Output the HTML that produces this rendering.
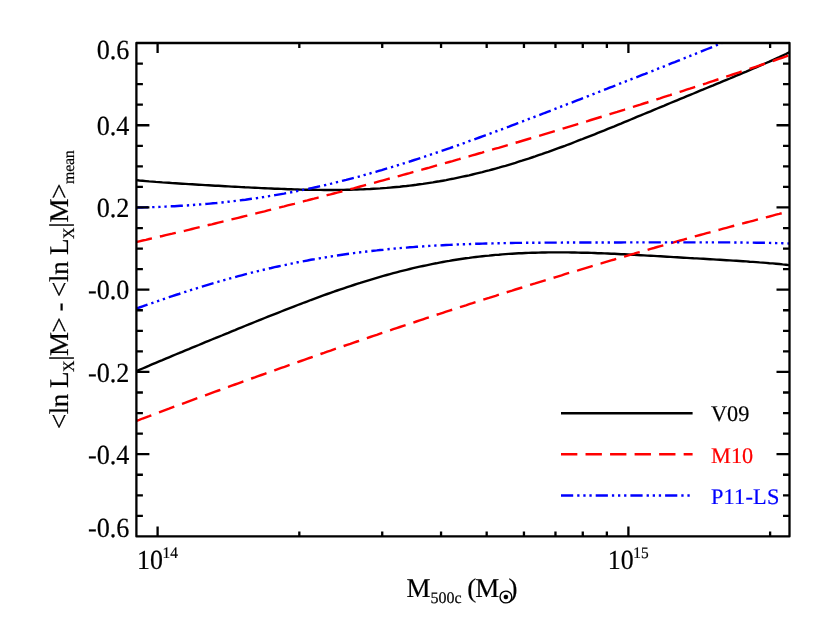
<!DOCTYPE html><html><head><meta charset="utf-8"><style>html,body{margin:0;padding:0;background:#fff}</style></head><body><svg width="830" height="623" viewBox="0 0 830 623" style="display:block;will-change:transform">
<rect width="830" height="623" fill="#fff"/>
<defs><clipPath id="c"><rect x="136.4" y="43.0" width="653.1" height="493.4"/></clipPath></defs>
<g fill="none" stroke-width="2.4" clip-path="url(#c)">
<path d="M136.0,180.1 L139.3,180.5 L142.6,180.8 L145.9,181.1 L149.2,181.4 L152.5,181.6 L155.8,181.9 L159.1,182.1 L162.4,182.4 L165.7,182.6 L169.0,182.8 L172.3,183.1 L175.6,183.3 L178.9,183.5 L182.2,183.7 L185.5,183.9 L188.8,184.1 L192.1,184.3 L195.4,184.5 L198.7,184.7 L202.0,184.9 L205.3,185.1 L208.6,185.3 L211.9,185.5 L215.2,185.7 L218.5,185.8 L221.8,186.0 L225.1,186.2 L228.4,186.4 L231.7,186.6 L235.0,186.7 L238.3,186.9 L241.6,187.1 L244.9,187.3 L248.2,187.4 L251.5,187.6 L254.8,187.7 L258.1,187.9 L261.4,188.1 L264.7,188.2 L268.0,188.4 L271.3,188.5 L274.6,188.7 L277.9,188.8 L281.2,188.9 L284.5,189.0 L287.8,189.2 L291.1,189.3 L294.4,189.4 L297.7,189.5 L300.9,189.6 L304.2,189.7 L307.5,189.7 L310.8,189.8 L314.1,189.8 L317.4,189.9 L320.7,189.9 L324.0,190.0 L327.3,190.0 L330.6,190.0 L333.9,190.0 L337.2,189.9 L340.5,189.9 L343.8,189.9 L347.1,189.8 L350.4,189.7 L353.7,189.6 L357.0,189.5 L360.3,189.4 L363.6,189.3 L366.9,189.1 L370.2,189.0 L373.5,188.8 L376.8,188.6 L380.1,188.4 L383.4,188.1 L386.7,187.9 L390.0,187.6 L393.3,187.3 L396.6,187.0 L399.9,186.7 L403.2,186.3 L406.5,186.0 L409.8,185.6 L413.1,185.2 L416.4,184.8 L419.7,184.3 L423.0,183.9 L426.3,183.4 L429.6,182.9 L432.9,182.4 L436.2,181.8 L439.5,181.3 L442.8,180.7 L446.1,180.1 L449.4,179.4 L452.7,178.8 L456.0,178.1 L459.3,177.4 L462.6,176.7 L465.9,176.0 L469.2,175.3 L472.5,174.5 L475.8,173.7 L479.1,172.9 L482.4,172.1 L485.7,171.2 L489.0,170.4 L492.3,169.5 L495.6,168.6 L498.9,167.7 L502.2,166.7 L505.5,165.8 L508.8,164.8 L512.1,163.8 L515.4,162.8 L518.7,161.7 L522.0,160.7 L525.3,159.6 L528.6,158.6 L531.9,157.5 L535.2,156.4 L538.5,155.2 L541.8,154.1 L545.1,152.9 L548.4,151.8 L551.7,150.6 L555.0,149.4 L558.3,148.2 L561.6,147.0 L564.9,145.8 L568.2,144.5 L571.5,143.3 L574.8,142.0 L578.1,140.7 L581.4,139.5 L584.7,138.2 L588.0,136.9 L591.3,135.6 L594.6,134.3 L597.9,132.9 L601.2,131.6 L604.5,130.3 L607.8,128.9 L611.1,127.6 L614.4,126.3 L617.7,124.9 L621.0,123.6 L624.3,122.2 L627.6,120.8 L630.8,119.5 L634.1,118.1 L637.4,116.7 L640.7,115.4 L644.0,114.0 L647.3,112.6 L650.6,111.3 L653.9,109.9 L657.2,108.5 L660.5,107.1 L663.8,105.8 L667.1,104.4 L670.4,103.0 L673.7,101.7 L677.0,100.3 L680.3,98.9 L683.6,97.6 L686.9,96.2 L690.2,94.8 L693.5,93.5 L696.8,92.1 L700.1,90.7 L703.4,89.4 L706.7,88.0 L710.0,86.6 L713.3,85.3 L716.6,83.9 L719.9,82.6 L723.2,81.2 L726.5,79.8 L729.8,78.5 L733.1,77.1 L736.4,75.7 L739.7,74.3 L743.0,72.9 L746.3,71.6 L749.6,70.2 L752.9,68.7 L756.2,67.3 L759.5,65.9 L762.8,64.5 L766.1,63.0 L769.4,61.6 L772.7,60.1 L776.0,58.6 L779.3,57.1 L782.6,55.5 L785.9,54.0 L789.2,52.4 L792.5,50.8" stroke="#000"/>
<path d="M136.0,371.4 L139.3,369.9 L142.6,368.5 L145.9,367.1 L149.2,365.7 L152.5,364.2 L155.8,362.8 L159.1,361.4 L162.4,360.1 L165.7,358.7 L169.0,357.3 L172.3,355.9 L175.6,354.5 L178.9,353.2 L182.2,351.8 L185.5,350.4 L188.8,349.1 L192.1,347.7 L195.4,346.3 L198.7,345.0 L202.0,343.6 L205.3,342.2 L208.6,340.9 L211.9,339.5 L215.2,338.2 L218.5,336.8 L221.8,335.5 L225.1,334.1 L228.4,332.8 L231.7,331.4 L235.0,330.1 L238.3,328.7 L241.6,327.4 L244.9,326.0 L248.2,324.7 L251.5,323.3 L254.8,322.0 L258.1,320.7 L261.4,319.3 L264.7,318.0 L268.0,316.7 L271.3,315.4 L274.6,314.1 L277.9,312.8 L281.2,311.5 L284.5,310.2 L287.8,308.9 L291.1,307.6 L294.4,306.3 L297.7,305.0 L300.9,303.8 L304.2,302.5 L307.5,301.3 L310.8,300.0 L314.1,298.8 L317.4,297.6 L320.7,296.4 L324.0,295.2 L327.3,294.0 L330.6,292.8 L333.9,291.7 L337.2,290.5 L340.5,289.4 L343.8,288.3 L347.1,287.2 L350.4,286.1 L353.7,285.0 L357.0,283.9 L360.3,282.9 L363.6,281.8 L366.9,280.8 L370.2,279.8 L373.5,278.8 L376.8,277.8 L380.1,276.8 L383.4,275.9 L386.7,275.0 L390.0,274.1 L393.3,273.2 L396.6,272.3 L399.9,271.4 L403.2,270.6 L406.5,269.8 L409.8,269.0 L413.1,268.2 L416.4,267.4 L419.7,266.7 L423.0,266.0 L426.3,265.3 L429.6,264.6 L432.9,263.9 L436.2,263.3 L439.5,262.6 L442.8,262.0 L446.1,261.4 L449.4,260.9 L452.7,260.3 L456.0,259.8 L459.3,259.3 L462.6,258.8 L465.9,258.3 L469.2,257.9 L472.5,257.4 L475.8,257.0 L479.1,256.6 L482.4,256.2 L485.7,255.9 L489.0,255.6 L492.3,255.2 L495.6,254.9 L498.9,254.7 L502.2,254.4 L505.5,254.1 L508.8,253.9 L512.1,253.7 L515.4,253.5 L518.7,253.3 L522.0,253.2 L525.3,253.0 L528.6,252.9 L531.9,252.8 L535.2,252.7 L538.5,252.6 L541.8,252.5 L545.1,252.5 L548.4,252.4 L551.7,252.4 L555.0,252.4 L558.3,252.4 L561.6,252.4 L564.9,252.4 L568.2,252.4 L571.5,252.5 L574.8,252.5 L578.1,252.6 L581.4,252.7 L584.7,252.7 L588.0,252.8 L591.3,252.9 L594.6,253.0 L597.9,253.2 L601.2,253.3 L604.5,253.4 L607.8,253.5 L611.1,253.7 L614.4,253.8 L617.7,254.0 L621.0,254.2 L624.3,254.3 L627.6,254.5 L630.8,254.7 L634.1,254.8 L637.4,255.0 L640.7,255.2 L644.0,255.4 L647.3,255.6 L650.6,255.7 L653.9,255.9 L657.2,256.1 L660.5,256.3 L663.8,256.5 L667.1,256.7 L670.4,256.9 L673.7,257.1 L677.0,257.3 L680.3,257.5 L683.6,257.7 L686.9,257.9 L690.2,258.1 L693.5,258.3 L696.8,258.4 L700.1,258.6 L703.4,258.8 L706.7,259.0 L710.0,259.2 L713.3,259.4 L716.6,259.6 L719.9,259.8 L723.2,260.0 L726.5,260.2 L729.8,260.4 L733.1,260.6 L736.4,260.8 L739.7,261.0 L743.0,261.2 L746.3,261.4 L749.6,261.7 L752.9,261.9 L756.2,262.1 L759.5,262.4 L762.8,262.6 L766.1,262.9 L769.4,263.2 L772.7,263.4 L776.0,263.7 L779.3,264.0 L782.6,264.4 L785.9,264.7 L789.2,265.1 L792.5,265.5" stroke="#000"/>
<path d="M136.0,242.1 L139.3,241.3 L142.6,240.5 L145.9,239.8 L149.2,239.0 L152.5,238.3 L155.8,237.5 L159.1,236.7 L162.4,236.0 L165.7,235.2 L169.0,234.4 L172.3,233.7 L175.6,232.9 L178.9,232.1 L182.2,231.3 L185.4,230.6 L188.7,229.8 L192.0,229.0 L195.3,228.2 L198.6,227.4 L201.9,226.6 L205.2,225.8 L208.5,225.0 L211.8,224.3 L215.1,223.5 L218.4,222.7 L221.7,221.9 L225.0,221.1 L228.3,220.2 L231.6,219.4 L234.9,218.6 L238.2,217.8 L241.5,217.0 L244.8,216.2 L248.1,215.4 L251.4,214.6 L254.7,213.7 L258.0,212.9 L261.3,212.1 L264.6,211.3 L267.9,210.4 L271.2,209.6 L274.5,208.8 L277.7,208.0 L281.0,207.1 L284.3,206.3 L287.6,205.4 L290.9,204.6 L294.2,203.8 L297.5,202.9 L300.8,202.1 L304.1,201.2 L307.4,200.4 L310.7,199.5 L314.0,198.7 L317.3,197.8 L320.6,196.9 L323.9,196.1 L327.2,195.2 L330.5,194.4 L333.8,193.5 L337.1,192.6 L340.4,191.8 L343.7,190.9 L347.0,190.0 L350.3,189.1 L353.6,188.3 L356.9,187.4 L360.2,186.5 L363.5,185.6 L366.8,184.7 L370.1,183.8 L373.3,183.0 L376.6,182.1 L379.9,181.2 L383.2,180.3 L386.5,179.4 L389.8,178.5 L393.1,177.6 L396.4,176.7 L399.7,175.8 L403.0,174.9 L406.3,174.0 L409.6,173.1 L412.9,172.1 L416.2,171.2 L419.5,170.3 L422.8,169.4 L426.1,168.5 L429.4,167.6 L432.7,166.6 L436.0,165.7 L439.3,164.8 L442.6,163.9 L445.9,162.9 L449.2,162.0 L452.5,161.1 L455.8,160.1 L459.1,159.2 L462.4,158.2 L465.6,157.3 L468.9,156.4 L472.2,155.4 L475.5,154.5 L478.8,153.5 L482.1,152.6 L485.4,151.6 L488.7,150.6 L492.0,149.7 L495.3,148.7 L498.6,147.8 L501.9,146.8 L505.2,145.8 L508.5,144.9 L511.8,143.9 L515.1,142.9 L518.4,142.0 L521.7,141.0 L525.0,140.0 L528.3,139.0 L531.6,138.0 L534.9,137.1 L538.2,136.1 L541.5,135.1 L544.8,134.1 L548.1,133.1 L551.4,132.1 L554.7,131.1 L557.9,130.1 L561.2,129.1 L564.5,128.1 L567.8,127.1 L571.1,126.1 L574.4,125.1 L577.7,124.1 L581.0,123.1 L584.3,122.1 L587.6,121.1 L590.9,120.0 L594.2,119.0 L597.5,118.0 L600.8,117.0 L604.1,116.0 L607.4,114.9 L610.7,113.9 L614.0,112.9 L617.3,111.9 L620.6,110.8 L623.9,109.8 L627.2,108.7 L630.5,107.7 L633.8,106.7 L637.1,105.6 L640.4,104.6 L643.7,103.5 L647.0,102.5 L650.3,101.4 L653.5,100.4 L656.8,99.3 L660.1,98.3 L663.4,97.2 L666.7,96.1 L670.0,95.1 L673.3,94.0 L676.6,93.0 L679.9,91.9 L683.2,90.8 L686.5,89.7 L689.8,88.7 L693.1,87.6 L696.4,86.5 L699.7,85.4 L703.0,84.3 L706.3,83.3 L709.6,82.2 L712.9,81.1 L716.2,80.0 L719.5,78.9 L722.8,77.8 L726.1,76.7 L729.4,75.6 L732.7,74.5 L736.0,73.4 L739.3,72.3 L742.6,71.2 L745.8,70.1 L749.1,69.0 L752.4,67.9 L755.7,66.8 L759.0,65.7 L762.3,64.5 L765.6,63.4 L768.9,62.3 L772.2,61.2 L775.5,60.0 L778.8,58.9 L782.1,57.8 L785.4,56.7 L788.7,55.5 L792.0,54.4" stroke="#f00" stroke-dasharray="16.35 8.18" stroke-dashoffset="0"/>
<path d="M136.0,421.0 L139.3,419.8 L142.6,418.5 L145.9,417.3 L149.2,416.1 L152.5,414.8 L155.8,413.6 L159.1,412.4 L162.4,411.1 L165.7,409.9 L169.0,408.7 L172.3,407.4 L175.6,406.2 L178.9,405.0 L182.2,403.8 L185.5,402.6 L188.8,401.3 L192.1,400.1 L195.4,398.9 L198.7,397.7 L202.0,396.5 L205.3,395.3 L208.6,394.1 L211.9,392.9 L215.2,391.7 L218.5,390.5 L221.8,389.3 L225.1,388.1 L228.4,386.9 L231.7,385.7 L235.0,384.5 L238.3,383.3 L241.6,382.1 L244.9,380.9 L248.2,379.7 L251.5,378.5 L254.8,377.4 L258.1,376.2 L261.4,375.0 L264.7,373.8 L268.0,372.6 L271.3,371.5 L274.6,370.3 L277.9,369.1 L281.2,367.9 L284.5,366.8 L287.8,365.6 L291.1,364.4 L294.4,363.3 L297.7,362.1 L300.9,361.0 L304.2,359.8 L307.5,358.6 L310.8,357.5 L314.1,356.3 L317.4,355.2 L320.7,354.0 L324.0,352.9 L327.3,351.7 L330.6,350.6 L333.9,349.4 L337.2,348.3 L340.5,347.2 L343.8,346.0 L347.1,344.9 L350.4,343.8 L353.7,342.6 L357.0,341.5 L360.3,340.4 L363.6,339.2 L366.9,338.1 L370.2,337.0 L373.5,335.9 L376.8,334.8 L380.1,333.6 L383.4,332.5 L386.7,331.4 L390.0,330.3 L393.3,329.2 L396.6,328.1 L399.9,327.0 L403.2,325.9 L406.5,324.8 L409.8,323.7 L413.1,322.6 L416.4,321.5 L419.7,320.4 L423.0,319.3 L426.3,318.2 L429.6,317.1 L432.9,316.0 L436.2,314.9 L439.5,313.9 L442.8,312.8 L446.1,311.7 L449.4,310.6 L452.7,309.6 L456.0,308.5 L459.3,307.4 L462.6,306.3 L465.9,305.3 L469.2,304.2 L472.5,303.2 L475.8,302.1 L479.1,301.0 L482.4,300.0 L485.7,298.9 L489.0,297.9 L492.3,296.8 L495.6,295.8 L498.9,294.7 L502.2,293.7 L505.5,292.6 L508.8,291.6 L512.1,290.6 L515.4,289.5 L518.7,288.5 L522.0,287.5 L525.3,286.4 L528.6,285.4 L531.9,284.4 L535.2,283.4 L538.5,282.3 L541.8,281.3 L545.1,280.3 L548.4,279.3 L551.7,278.3 L555.0,277.3 L558.3,276.3 L561.6,275.3 L564.9,274.2 L568.2,273.2 L571.5,272.2 L574.8,271.2 L578.1,270.3 L581.4,269.3 L584.7,268.3 L588.0,267.3 L591.3,266.3 L594.6,265.3 L597.9,264.3 L601.2,263.4 L604.5,262.4 L607.8,261.4 L611.1,260.4 L614.4,259.5 L617.7,258.5 L621.0,257.5 L624.3,256.6 L627.6,255.6 L630.8,254.6 L634.1,253.7 L637.4,252.7 L640.7,251.8 L644.0,250.8 L647.3,249.9 L650.6,248.9 L653.9,248.0 L657.2,247.0 L660.5,246.1 L663.8,245.2 L667.1,244.2 L670.4,243.3 L673.7,242.4 L677.0,241.4 L680.3,240.5 L683.6,239.6 L686.9,238.7 L690.2,237.8 L693.5,236.8 L696.8,235.9 L700.1,235.0 L703.4,234.1 L706.7,233.2 L710.0,232.3 L713.3,231.4 L716.6,230.5 L719.9,229.6 L723.2,228.7 L726.5,227.8 L729.8,226.9 L733.1,226.0 L736.4,225.2 L739.7,224.3 L743.0,223.4 L746.3,222.5 L749.6,221.7 L752.9,220.8 L756.2,219.9 L759.5,219.0 L762.8,218.2 L766.1,217.3 L769.4,216.5 L772.7,215.6 L776.0,214.7 L779.3,213.9 L782.6,213.0 L785.9,212.2 L789.2,211.4 L792.5,210.5" stroke="#f00" stroke-dasharray="16.35 8.18" stroke-dashoffset="0"/>
<path d="M136.0,207.6 L139.0,207.5 L141.9,207.5 L144.9,207.4 L147.8,207.3 L150.8,207.2 L153.8,207.1 L156.7,207.0 L159.7,206.9 L162.6,206.7 L165.6,206.6 L168.6,206.5 L171.5,206.3 L174.5,206.2 L177.4,206.0 L180.4,205.8 L183.4,205.7 L186.3,205.5 L189.3,205.3 L192.2,205.1 L195.2,204.8 L198.2,204.6 L201.1,204.4 L204.1,204.1 L207.0,203.9 L210.0,203.6 L213.0,203.3 L215.9,203.1 L218.9,202.8 L221.8,202.5 L224.8,202.2 L227.8,201.8 L230.7,201.5 L233.7,201.1 L236.7,200.8 L239.6,200.4 L242.6,200.0 L245.5,199.7 L248.5,199.2 L251.5,198.8 L254.4,198.4 L257.4,198.0 L260.3,197.5 L263.3,197.1 L266.3,196.6 L269.2,196.1 L272.2,195.6 L275.1,195.1 L278.1,194.6 L281.1,194.1 L284.0,193.6 L287.0,193.0 L289.9,192.5 L292.9,191.9 L295.9,191.3 L298.8,190.7 L301.8,190.1 L304.7,189.5 L307.7,188.9 L310.7,188.3 L313.6,187.6 L316.6,187.0 L319.5,186.3 L322.5,185.6 L325.5,185.0 L328.4,184.3 L331.4,183.6 L334.3,182.8 L337.3,182.1 L340.3,181.4 L343.2,180.6 L346.2,179.9 L349.1,179.1 L352.1,178.3 L355.1,177.6 L358.0,176.8 L361.0,176.0 L363.9,175.1 L366.9,174.3 L369.9,173.5 L372.8,172.6 L375.8,171.8 L378.7,170.9 L381.7,170.1 L384.7,169.2 L387.6,168.3 L390.6,167.4 L393.5,166.5 L396.5,165.6 L399.5,164.7 L402.4,163.8 L405.4,162.9 L408.3,161.9 L411.3,161.0 L414.3,160.0 L417.2,159.1 L420.2,158.1 L423.1,157.1 L426.1,156.1 L429.1,155.2 L432.0,154.2 L435.0,153.2 L438.0,152.2 L440.9,151.1 L443.9,150.1 L446.8,149.1 L449.8,148.1 L452.8,147.0 L455.7,146.0 L458.7,145.0 L461.6,143.9 L464.6,142.9 L467.6,141.8 L470.5,140.7 L473.5,139.7 L476.4,138.6 L479.4,137.5 L482.4,136.4 L485.3,135.4 L488.3,134.3 L491.2,133.2 L494.2,132.1 L497.2,131.0 L500.1,129.9 L503.1,128.8 L506.0,127.7 L509.0,126.6 L512.0,125.4 L514.9,124.3 L517.9,123.2 L520.8,122.1 L523.8,121.0 L526.8,119.8 L529.7,118.7 L532.7,117.6 L535.6,116.4 L538.6,115.3 L541.6,114.2 L544.5,113.0 L547.5,111.9 L550.4,110.8 L553.4,109.6 L556.4,108.5 L559.3,107.3 L562.3,106.2 L565.2,105.0 L568.2,103.9 L571.2,102.7 L574.1,101.6 L577.1,100.4 L580.0,99.3 L583.0,98.1 L586.0,97.0 L588.9,95.8 L591.9,94.7 L594.8,93.5 L597.8,92.4 L600.8,91.2 L603.7,90.0 L606.7,88.9 L609.6,87.7 L612.6,86.6 L615.6,85.4 L618.5,84.2 L621.5,83.1 L624.4,81.9 L627.4,80.8 L630.4,79.6 L633.3,78.4 L636.3,77.3 L639.3,76.1 L642.2,74.9 L645.2,73.8 L648.1,72.6 L651.1,71.4 L654.1,70.3 L657.0,69.1 L660.0,67.9 L662.9,66.8 L665.9,65.6 L668.9,64.4 L671.8,63.2 L674.8,62.1 L677.7,60.9 L680.7,59.7 L683.7,58.5 L686.6,57.3 L689.6,56.2 L692.5,55.0 L695.5,53.8 L698.5,52.6 L701.4,51.4 L704.4,50.2 L707.3,49.0 L710.3,47.8 L713.3,46.6 L716.2,45.3 L719.2,44.1 L722.1,42.9 L725.1,41.7" stroke="#00f" stroke-dasharray="12.2 4 2.3 3.8 2.3 3.8 2.3 4" stroke-dashoffset="0"/>
<path d="M136.0,308.6 L139.3,307.5 L142.6,306.3 L145.9,305.2 L149.2,304.0 L152.5,302.9 L155.8,301.7 L159.1,300.6 L162.4,299.5 L165.7,298.3 L169.0,297.2 L172.3,296.1 L175.6,295.0 L178.9,294.0 L182.2,292.9 L185.5,291.8 L188.8,290.8 L192.1,289.7 L195.4,288.7 L198.7,287.6 L202.0,286.6 L205.3,285.6 L208.6,284.6 L211.9,283.6 L215.2,282.7 L218.5,281.7 L221.8,280.8 L225.1,279.8 L228.4,278.9 L231.7,278.0 L235.0,277.1 L238.3,276.2 L241.6,275.3 L244.9,274.4 L248.2,273.6 L251.5,272.7 L254.8,271.9 L258.1,271.1 L261.4,270.3 L264.7,269.5 L268.0,268.7 L271.3,268.0 L274.6,267.2 L277.9,266.5 L281.2,265.8 L284.5,265.1 L287.8,264.4 L291.1,263.7 L294.4,263.0 L297.7,262.3 L300.9,261.7 L304.2,261.1 L307.5,260.5 L310.8,259.8 L314.1,259.3 L317.4,258.7 L320.7,258.1 L324.0,257.6 L327.3,257.0 L330.6,256.5 L333.9,256.0 L337.2,255.5 L340.5,255.0 L343.8,254.5 L347.1,254.0 L350.4,253.6 L353.7,253.1 L357.0,252.7 L360.3,252.3 L363.6,251.9 L366.9,251.5 L370.2,251.1 L373.5,250.7 L376.8,250.4 L380.1,250.0 L383.4,249.7 L386.7,249.3 L390.0,249.0 L393.3,248.7 L396.6,248.4 L399.9,248.1 L403.2,247.8 L406.5,247.6 L409.8,247.3 L413.1,247.1 L416.4,246.8 L419.7,246.6 L423.0,246.4 L426.3,246.1 L429.6,245.9 L432.9,245.7 L436.2,245.5 L439.5,245.4 L442.8,245.2 L446.1,245.0 L449.4,244.9 L452.7,244.7 L456.0,244.6 L459.3,244.4 L462.6,244.3 L465.9,244.2 L469.2,244.1 L472.5,243.9 L475.8,243.8 L479.1,243.7 L482.4,243.6 L485.7,243.5 L489.0,243.5 L492.3,243.4 L495.6,243.3 L498.9,243.2 L502.2,243.2 L505.5,243.1 L508.8,243.1 L512.1,243.0 L515.4,242.9 L518.7,242.9 L522.0,242.9 L525.3,242.8 L528.6,242.8 L531.9,242.7 L535.2,242.7 L538.5,242.7 L541.8,242.7 L545.1,242.6 L548.4,242.6 L551.7,242.6 L555.0,242.6 L558.3,242.6 L561.6,242.6 L564.9,242.5 L568.2,242.5 L571.5,242.5 L574.8,242.5 L578.1,242.5 L581.4,242.5 L584.7,242.5 L588.0,242.5 L591.3,242.5 L594.6,242.5 L597.9,242.5 L601.2,242.5 L604.5,242.5 L607.8,242.5 L611.1,242.5 L614.4,242.5 L617.7,242.5 L621.0,242.5 L624.3,242.4 L627.6,242.4 L630.8,242.4 L634.1,242.4 L637.4,242.4 L640.7,242.4 L644.0,242.4 L647.3,242.4 L650.6,242.4 L653.9,242.4 L657.2,242.4 L660.5,242.4 L663.8,242.4 L667.1,242.4 L670.4,242.4 L673.7,242.4 L677.0,242.4 L680.3,242.4 L683.6,242.4 L686.9,242.4 L690.2,242.4 L693.5,242.4 L696.8,242.4 L700.1,242.4 L703.4,242.4 L706.7,242.4 L710.0,242.4 L713.3,242.4 L716.6,242.4 L719.9,242.4 L723.2,242.4 L726.5,242.4 L729.8,242.4 L733.1,242.4 L736.4,242.5 L739.7,242.5 L743.0,242.5 L746.3,242.6 L749.6,242.6 L752.9,242.6 L756.2,242.7 L759.5,242.7 L762.8,242.8 L766.1,242.8 L769.4,242.9 L772.7,243.0 L776.0,243.1 L779.3,243.1 L782.6,243.2 L785.9,243.3 L789.2,243.5 L792.5,243.6" stroke="#00f" stroke-dasharray="12.2 4 2.3 3.8 2.3 3.8 2.3 4" stroke-dashoffset="0"/>
</g>
<g fill="none" stroke-width="2.4">
<path d="M561,413.2 H692.6" stroke="#000"/>
<path d="M561,454.32 H692.6" stroke="#f00" stroke-dasharray="16.35 8.18"/>
<path d="M561,495.43 H692.6" stroke="#00f" stroke-dasharray="12.2 4 2.3 3.8 2.3 3.8 2.3 4"/>
</g>
<path d="M136.4,43.0 H789.5 V536.4 H136.4 Z M136.4,63.56 h6.5 M789.5,63.56 h-6.5 M136.4,84.12 h6.5 M789.5,84.12 h-6.5 M136.4,104.68 h6.5 M789.5,104.68 h-6.5 M136.4,125.23 h13 M789.5,125.23 h-13 M136.4,145.79 h6.5 M789.5,145.79 h-6.5 M136.4,166.35 h6.5 M789.5,166.35 h-6.5 M136.4,186.91 h6.5 M789.5,186.91 h-6.5 M136.4,207.47 h13 M789.5,207.47 h-13 M136.4,228.03 h6.5 M789.5,228.03 h-6.5 M136.4,248.58 h6.5 M789.5,248.58 h-6.5 M136.4,269.14 h6.5 M789.5,269.14 h-6.5 M136.4,289.70 h13 M789.5,289.70 h-13 M136.4,310.26 h6.5 M789.5,310.26 h-6.5 M136.4,330.82 h6.5 M789.5,330.82 h-6.5 M136.4,351.38 h6.5 M789.5,351.38 h-6.5 M136.4,371.93 h13 M789.5,371.93 h-13 M136.4,392.49 h6.5 M789.5,392.49 h-6.5 M136.4,413.05 h6.5 M789.5,413.05 h-6.5 M136.4,433.61 h6.5 M789.5,433.61 h-6.5 M136.4,454.17 h13 M789.5,454.17 h-13 M136.4,474.73 h6.5 M789.5,474.73 h-6.5 M136.4,495.28 h6.5 M789.5,495.28 h-6.5 M136.4,515.84 h6.5 M789.5,515.84 h-6.5 M157.60,43.0 v9.9 M157.60,536.4 v-9.9 M299.32,43.0 v4.9 M299.32,536.4 v-4.9 M382.23,43.0 v4.9 M382.23,536.4 v-4.9 M441.05,43.0 v4.9 M441.05,536.4 v-4.9 M486.68,43.0 v4.9 M486.68,536.4 v-4.9 M523.95,43.0 v4.9 M523.95,536.4 v-4.9 M555.47,43.0 v4.9 M555.47,536.4 v-4.9 M582.77,43.0 v4.9 M582.77,536.4 v-4.9 M606.86,43.0 v4.9 M606.86,536.4 v-4.9 M628.40,43.0 v9.9 M628.40,536.4 v-9.9 M770.12,43.0 v4.9 M770.12,536.4 v-4.9" fill="none" stroke="#000" stroke-width="2.3" stroke-linejoin="round"/>
<g font-family="Liberation Serif, serif" font-size="27.0" fill="#000" stroke="#000" stroke-width="0.2" text-rendering="geometricPrecision">
<text transform="translate(129.4,59.20) scale(0.97,1.025)" text-anchor="end">0.6</text>
<text transform="translate(129.4,134.80) scale(0.97,1.025)" text-anchor="end">0.4</text>
<text transform="translate(129.4,216.80) scale(0.97,1.025)" text-anchor="end">0.2</text>
<text transform="translate(129.4,299.20) scale(0.97,1.025)" text-anchor="end">-0.0</text>
<text transform="translate(129.4,381.50) scale(0.97,1.025)" text-anchor="end">-0.2</text>
<text transform="translate(129.4,463.60) scale(0.97,1.025)" text-anchor="end">-0.4</text>
<text transform="translate(129.4,537.10) scale(0.97,1.025)" text-anchor="end">-0.6</text>
<text transform="translate(137.0,569.3) scale(0.96,1.025)">10</text><text transform="translate(162.5,557.7) scale(0.96,1.0)" font-size="16.0">14</text>
<text transform="translate(607.8,569.3) scale(0.96,1.025)">10</text><text transform="translate(633.3,557.7) scale(0.96,1.0)" font-size="16.0">15</text>
<text x="406.5" y="597.1">M<tspan font-size="16.0" dy="6">500c</tspan></text>
<text x="467.3" y="597.1">(</text><text x="475.2" y="597.1">M</text>
<text x="508.6" y="597.1">)</text>
<circle cx="505.9" cy="597" r="5.9" fill="none" stroke="#000" stroke-width="1.4"/><circle cx="505.9" cy="597" r="2.2" fill="#000"/>
<text transform="translate(67.9,428.9) rotate(-90)" letter-spacing="-0.5">&lt;ln L<tspan font-size="16.0" dy="6">X</tspan><tspan dy="-6">|M&gt; -</tspan></text>
<text transform="translate(67.9,296.9) rotate(-90)" letter-spacing="-0.3">&lt;ln L<tspan font-size="16.0" dy="6">X</tspan><tspan dy="-6">|M&gt;</tspan><tspan font-size="16.0" dy="6">mean</tspan></text>
<text x="711" y="421.35" font-size="22.3">V09</text>
<text x="711.1" y="462.5" font-size="22.3" fill="#f00" stroke="#f00">M10</text>
<text x="711" y="503.65" font-size="22.3" fill="#00f" stroke="#00f" letter-spacing="0.2">P11-LS</text>
</g></svg></body></html>
